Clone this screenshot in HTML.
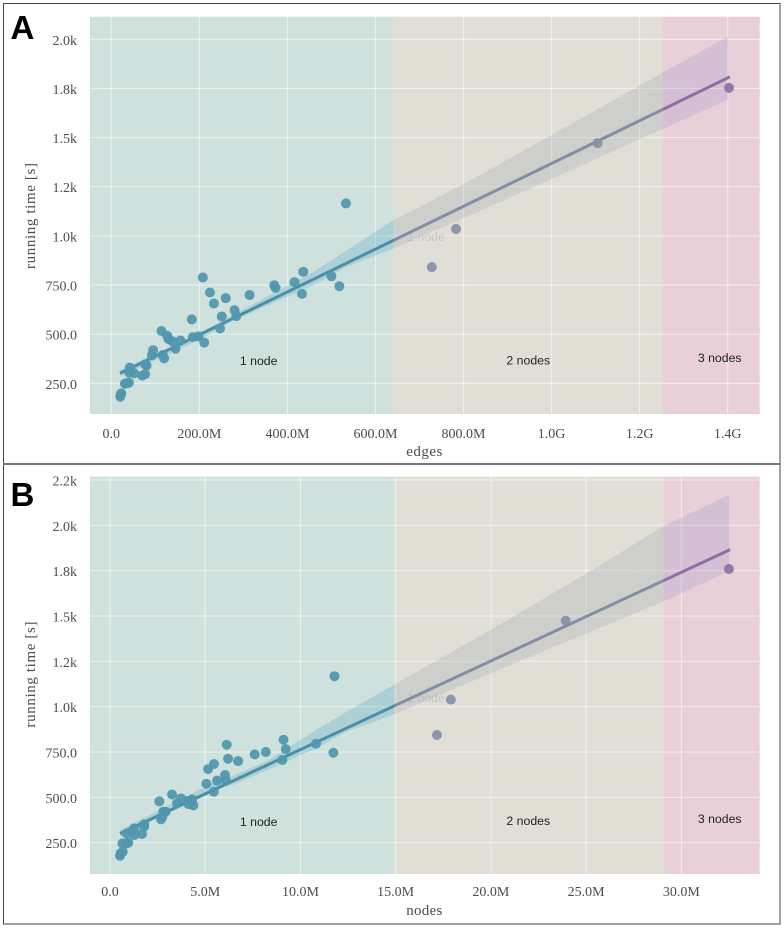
<!DOCTYPE html>
<html lang="en">
<head>
<meta charset="utf-8">
<title>Running time vs edges and nodes</title>
<style>
html,body{margin:0;padding:0;background:#fff;width:784px;height:928px;overflow:hidden}
svg{display:block}
.tick{font-family:"Liberation Serif",serif;font-size:14px;fill:#4c4c4c}
.axis-title{font-family:"Liberation Serif",serif;font-size:15px;fill:#4c4c4c}
.region-label{font-family:"Liberation Sans",sans-serif;font-size:12.3px;fill:#222}
.panel-letter{font-family:"Liberation Sans",sans-serif;font-weight:bold;font-size:33px;fill:#000}
</style>
</head>
<body>
<svg id="figure" xmlns="http://www.w3.org/2000/svg" width="784" height="928" viewBox="0 0 784 928">
  <rect x="3.5" y="3.5" width="776.5" height="460" fill="#fff" stroke="#444" stroke-width="1"/>
  <rect x="3.5" y="464" width="776.5" height="460" fill="#fff" stroke="#444" stroke-width="1"/>
  <line x1="3" x2="780" y1="464" y2="464" stroke="#777" stroke-width="2"/>
  <text class="panel-letter" x="10.5" y="39">A</text>
  <text class="panel-letter" x="10.5" y="506">B</text>
</svg>
<script>
// Panel A: edges (millions) vs running time (s)
const edgesValues = [22.7,20.5,21.2,31,40,33,42,41,52,70,77,77,80,92,95,117,120,114,127,130,139,146,157,183,185,198,211,208,224,233,260,247,251,280,284,314,370,373,416,436,433,500,518,533,728,783,1104.5,1403];
const edgesRuntime = [199,182,192,248,253,250,330,304,301,289,297,346,341,392,419,394,377,516,492,475,463,426,468,575,485,489,457,788,712,656,683,529,590,622,592,699,749,736,765,817,705,795,744,1165,841,1035,1472,1753];
const edgesFitX = [19.8,1405];
const edgesFitY = [301,1809];
const edgesCiX = [20,201.5,277,353,459,535,641,801.6,1001,1253.6,1401];
const edgesCiUpper = [318,504,600,690,817,927,1079,1265,1514,1832,2015];
const edgesCiLower = [284,473,568,645,749,842,936,1092,1291,1545,1694];
const edgesTicks = [0,200,400,600,800,1000,1200,1400];
const edgesTickLabels = ['0.0','200.0M','400.0M','600.0M','800.0M','1.0G','1.2G','1.4G'];
const edgesRegionEnds = [641,1253];
const edgesRuntimeTicks = [250,500,750,1000,1250,1500,1750,2000];
const edgesRuntimeTickLabels = ['250.0','500.0','750.0','1.0k','1.2k','1.5k','1.8k','2.0k'];

// Panel B: nodes (millions) vs running time (s)
const nodesValues = [0.53,0.56,0.67,0.65,0.96,0.84,1.26,0.88,1.28,1.68,1.8,1.79,1.14,2.59,2.68,2.75,2.8,2.92,3.26,3.52,3.73,4.06,4.12,4.31,4.38,4.29,5.06,5.15,5.45,5.46,5.62,6.04,6.09,6.13,6.2,6.73,7.6,8.18,9.05,9.11,9.23,10.82,11.73,11.79,17.17,17.9,23.93,32.5];
const nodesRuntime = [178,191,200,246,250,246,329,301,292,298,351,338,311,478,379,393,421,421,516,467,494,480,463,489,456,482,575,656,531,684,592,623,592,790,713,700,737,750,706,818,766,796,746,1168,844,1039,1474,1759];
const nodesFitX = [0.53,32.56];
const nodesFitY = [301,1866];
const nodesCiX = [0.53,5.6,6.48,8.23,9.46,10.68,12.43,14.89,20,25.05,29.06,32.5];
const nodesCiUpper = [320,590,620,700,780,863,973,1120,1424,1737,1994,2169];
const nodesCiLower = [283,553,570,650,706,762,863,955,1185,1406,1580,1746];
const nodesTicks = [0,5,10,15,20,25,30];
const nodesTickLabels = ['0.0','5.0M','10.0M','15.0M','20.0M','25.0M','30.0M'];
const nodesRegionEnds = [14.92,29.06];
const nodesRuntimeTicks = [250,500,750,1000,1250,1500,1750,2000,2250];
const nodesRuntimeTickLabels = ['250.0','500.0','750.0','1.0k','1.2k','1.5k','1.8k','2.0k','2.2k'];

const regionLabels = ['1 node','2 nodes','3 nodes'];

const SVG_NS = 'http://www.w3.org/2000/svg';
const figure = document.getElementById('figure');

function linearScale(d0, d1, r0, r1) {
  return function (v) { return r0 + (v - d0) * (r1 - r0) / (d1 - d0); };
}
function make(tag, attrs, parent) {
  const node = document.createElementNS(SVG_NS, tag);
  for (const k in attrs) node.setAttribute(k, attrs[k]);
  parent.appendChild(node);
  return node;
}
function hardGradient(defs, id, x1, x2, b1, b2, colors, opacity) {
  const g = make('linearGradient', {id: id, gradientUnits: 'userSpaceOnUse', x1: x1, x2: x2, y1: 0, y2: 0}, defs);
  const o1 = (b1 - x1) / (x2 - x1), o2 = (b2 - x1) / (x2 - x1);
  [[0, 0], [o1, 0], [o1, 1], [o2, 1], [o2, 2], [1, 2]].forEach(function (s) {
    make('stop', {offset: s[0], 'stop-color': colors[s[1]], 'stop-opacity': opacity}, g);
  });
}

function drawPanel(p) {
  const xS = linearScale(p.xd[0], p.xd[1], p.xr[0], p.xr[1]);
  const yS = linearScale(p.yd[0], p.yd[1], p.yr[0], p.yr[1]);
  const L = 90, R = 759.7, T = p.top, B = p.bottom;
  const b1 = xS(p.regionEnds[0]), b2 = xS(p.regionEnds[1]);

  const panel = make('g', {}, figure);
  
  

  const defs = make('defs', {}, panel);
  hardGradient(defs, p.id + '-band', L, R, b1, b2, ['#50a4c4', '#9ca6b0', '#a094c8'], 0.27);
  hardGradient(defs, p.id + '-line', L, R, b1, b2, ['#4a8fa6', '#858ca5', '#8f6ea5'], 1);
  hardGradient(defs, p.id + '-point', L, R, b1, b2, ['#5096ae', '#8790a9', '#8c72a9'], 0.93);

  const regionFills = ['#cfe1dc', '#e0ded5', '#e9cfd8'];
  const edges = [L, b1, b2, R];
  regionFills.forEach(function (fill, i) {
    const r = make('rect', {x: edges[i], y: T, width: edges[i + 1] - edges[i], height: B - T, fill: fill}, panel);
    
    
  });

  p.xTicks.forEach(function (v, i) {
    const g = make('line', {x1: xS(v), x2: xS(v), y1: T, y2: B, stroke: '#fff', 'stroke-opacity': 0.55, 'stroke-width': 1.1}, panel);
    
    
    const t = make('text', {x: xS(v), y: p.xTickY, 'text-anchor': 'middle', class: 'tick'}, panel);
    t.textContent = p.xTickLabels[i];
    
    
  });
  p.yTicks.forEach(function (v, i) {
    const g = make('line', {x1: L, x2: R, y1: yS(v), y2: yS(v), stroke: '#fff', 'stroke-opacity': 0.55, 'stroke-width': 1.1}, panel);
    
    
    const t = make('text', {x: 77, y: yS(v) + 5.5, 'text-anchor': 'end', class: 'tick'}, panel);
    t.textContent = p.yTickLabels[i];
    
    
  });

  const ghost = make('text', {x: 426, y: p.ghostY, 'text-anchor': 'middle', class: 'region-label', style: 'fill:#c6c6c8'}, panel);
  ghost.textContent = regionLabels[0];
  
  

  const upper = p.ciX.map(function (x, i) { return xS(x).toFixed(1) + ',' + yS(p.ciUpper[i]).toFixed(1); });
  const lower = p.ciX.map(function (x, i) { return xS(x).toFixed(1) + ',' + yS(p.ciLower[i]).toFixed(1); }).reverse();
  const band = make('polygon', {points: upper.concat(lower).join(' '), fill: 'url(#' + p.id + '-band)'}, panel);
  
  

  const fit = make('polyline', {
    points: p.fitX.map(function (x, i) { return xS(x).toFixed(1) + ',' + yS(p.fitY[i]).toFixed(1); }).join(' '),
    fill: 'none', stroke: 'url(#' + p.id + '-line)', 'stroke-width': 3
  }, panel);
  
  

  p.xs.forEach(function (x, i) {
    const c = make('circle', {cx: xS(x), cy: yS(p.ys[i]), r: 5, fill: 'url(#' + p.id + '-point)'}, panel);
    
    
  });

  regionLabels.forEach(function (label, i) {
    const t = make('text', {x: [258.7, 528.3, 719.7][i], y: p.labelY[i], 'text-anchor': 'middle', class: 'region-label'}, panel);
    t.textContent = label;
    
    
  });

  const xt = make('text', {x: 424.3, y: p.xTitleY, 'text-anchor': 'middle', class: 'axis-title', textLength: 36}, panel);
  xt.textContent = p.xTitle;
  
  

  const yt = make('text', {x: 0, y: 0, 'text-anchor': 'middle', class: 'axis-title', textLength: 106, transform: 'translate(35 ' + p.yTitleC + ') rotate(-90)'}, panel);
  yt.textContent = 'running time [s]';
  
  
}

drawPanel({
  id: 'edges', top: 16.7, bottom: 414,
  xd: [0, 1400], xr: [111.3, 727.7], yd: [250, 2000], yr: [383.3, 39.3],
  xs: edgesValues, ys: edgesRuntime, fitX: edgesFitX, fitY: edgesFitY,
  ciX: edgesCiX, ciUpper: edgesCiUpper, ciLower: edgesCiLower,
  xTicks: edgesTicks, xTickLabels: edgesTickLabels,
  yTicks: edgesRuntimeTicks, yTickLabels: edgesRuntimeTickLabels,
  regionEnds: edgesRegionEnds, xTitle: 'edges',
  xTickY: 438, xTitleY: 456, yTitleC: 216, ghostY: 241,
  labelY: [365, 364.5, 361.8]
});
drawPanel({
  id: 'nodes', top: 476.7, bottom: 874,
  xd: [0, 30], xr: [110, 681.3], yd: [250, 2250], yr: [842.7, 480],
  xs: nodesValues, ys: nodesRuntime, fitX: nodesFitX, fitY: nodesFitY,
  ciX: nodesCiX, ciUpper: nodesCiUpper, ciLower: nodesCiLower,
  xTicks: nodesTicks, xTickLabels: nodesTickLabels,
  yTicks: nodesRuntimeTicks, yTickLabels: nodesRuntimeTickLabels,
  regionEnds: nodesRegionEnds, xTitle: 'nodes',
  xTickY: 896, xTitleY: 915, yTitleC: 674.5, ghostY: 702,
  labelY: [826, 825, 822.8]
});
</script>
</body>
</html>
